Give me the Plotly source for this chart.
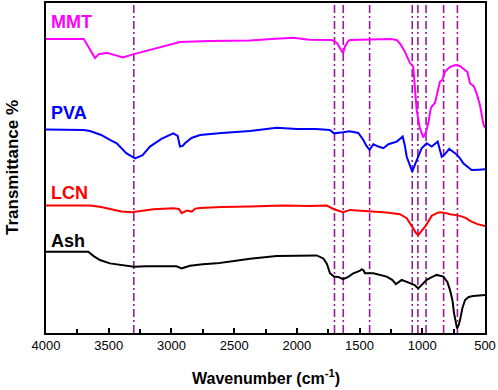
import plotly.graph_objects as go

# ---- data (wavenumber cm-1, offset transmittance in arbitrary units) ----
mmt_wn = [4000, 3700, 3689, 3650, 3609, 3580, 3514, 3450, 3386, 3300, 3150, 2932, 2700, 2509, 2374, 2200,
          2028, 1900, 1722, 1680, 1650, 1632, 1615, 1590, 1576, 1400, 1250, 1204, 1170, 1138, 1110, 1098,
          1072, 1060, 1045, 1020, 992, 970, 952, 935, 925, 899, 880, 859, 840, 819, 780, 739, 700, 673,
          640, 620, 590, 567, 540, 514, 500]
mmt_t = [89.1, 89.1, 88.5, 85.8, 83.3, 84.5, 84.9, 84.2, 83.5, 84.5, 86.1, 88.2, 88.5, 88.6, 88.6, 89.1,
         89.5, 88.9, 88.8, 87.9, 86.1, 84.8, 86.9, 88.5, 88.8, 88.9, 89.1, 88.8, 87.3, 85.2, 82.7, 81.8,
         80.7, 75.2, 67.6, 62.2, 59.3, 60.9, 63.6, 67.6, 68.6, 69.7, 73.0, 76.2, 76.7, 79.2, 80.6, 81.2, 80.9, 80.2,
         79.1, 75.7, 74.8, 72.6, 69.1, 63.5, 62.1]

pva_wn = [4000, 3700, 3649, 3560, 3490, 3436, 3360, 3290, 3230, 3171, 3080, 2985, 2950, 2932, 2910, 2892,
          2840, 2772, 2600, 2374, 2161, 2000, 1850, 1736, 1704, 1670, 1632, 1580, 1510, 1470, 1445, 1420,
          1390, 1350, 1310, 1270, 1204, 1156, 1140, 1124, 1100, 1080, 1060, 1045, 1005, 965, 925, 900,
          877, 860, 845, 819, 785, 739, 700, 673, 640, 607, 550, 500]
pva_t = [61.7, 61.5, 61.2, 60.0, 58.5, 57.5, 54.5, 52.9, 53.9, 56.5, 58.8, 60.5, 59.7, 56.5, 56.7, 57.5,
         59.1, 60.0, 60.6, 61.2, 62.2, 61.8, 61.8, 61.5, 60.5, 60.6, 60.8, 61.1, 60.6, 58.5, 56.7, 55.5,
         57.2, 56.5, 56.0, 57.2, 58.0, 59.5, 57.0, 53.4, 50.9, 48.9, 50.9, 52.4, 56.0, 57.5, 56.5, 57.3,
         58.0, 55.5, 53.4, 54.2, 55.8, 54.5, 53.0, 51.4, 50.3, 49.4, 49.5, 49.6]

lcn_wn = [4000, 3649, 3560, 3490, 3400, 3317, 3230, 3145, 2985, 2940, 2918, 2890, 2878, 2838, 2810, 2772,
          2600, 2374, 2108, 1900, 1762, 1704, 1660, 1632, 1576, 1500, 1420, 1350, 1284, 1178, 1124, 1072,
          1050, 1032, 1010, 978, 950, 925, 880, 859, 820, 779, 699, 650, 620, 560, 500]
lcn_t = [38.6, 38.6, 38.2, 37.5, 36.8, 36.6, 37.0, 37.5, 37.8, 37.6, 36.3, 37.0, 37.1, 36.8, 37.7, 37.9,
         38.2, 38.3, 38.6, 38.5, 38.6, 37.5, 37.0, 36.6, 37.3, 37.1, 36.8, 36.7, 36.5, 36.0, 34.8, 31.7,
         30.3, 29.7, 30.6, 32.2, 33.9, 35.5, 36.4, 36.6, 36.4, 36.0, 35.5, 34.8, 34.0, 33.0, 32.4]

ash_wn = [4000, 3663, 3620, 3570, 3490, 3357, 3300, 3200, 3038, 2960, 2918, 2852, 2750, 2639, 2500, 2374,
          2161, 2000, 1842, 1789, 1760, 1736, 1704, 1670, 1632, 1590, 1550, 1500, 1483, 1470, 1457, 1390,
          1284, 1240, 1210, 1164, 1098, 1060, 1032, 1000, 965, 920, 885, 832, 800, 779, 760, 747, 735,
          723, 710, 699, 680, 659, 630, 593, 500]
ash_t = [24.6, 24.6, 23.3, 22.1, 21.1, 20.5, 20.1, 20.2, 20.1, 20.2, 19.6, 20.4, 20.8, 21.1, 21.8, 22.5,
         23.3, 23.3, 23.5, 22.6, 20.9, 18.1, 17.1, 17.0, 16.3, 17.0, 18.1, 18.8, 19.3, 19.1, 18.1, 18.1,
         17.1, 16.1, 14.8, 16.1, 15.2, 14.5, 13.5, 14.8, 16.1, 17.0, 17.6, 17.1, 15.5, 13.0, 10.0, 6.0, 3.0,
         1.4, 2.4, 3.9, 7.6, 10.0, 10.9, 11.2, 11.5]

marker_wn = [3300, 1700, 1630, 1420, 1080, 1035, 970, 830, 720]

series_names = ["MMT", "PVA", "LCN", "Ash"]
series_colors = ["#FF00FF", "#0000FF", "#FF0000", "#000000"]
label_y = [94.2, 66.7, 42.4, 27.9]

tick_vals = [4000, 3500, 3000, 2500, 2000, 1500, 1000, 500]
tick_text = ["4000", "3500", "3000", "2500", "2000", "1500", "1000", "500"]

fig = go.Figure()

# vertical dash-dot reference lines
for w in marker_wn:
    fig.add_shape(type="line", xref="x", yref="paper", x0=w, x1=w, y0=0, y1=1,
                  line=dict(color="#9B1B96", width=1.6, dash="8px,3px,2px,3px"), layer="below")

for name, wn, t, c in zip(series_names, [mmt_wn, pva_wn, lcn_wn, ash_wn],
                          [mmt_t, pva_t, lcn_t, ash_t], series_colors):
    fig.add_trace(go.Scatter(x=wn, y=t, mode="lines", name=name,
                             line=dict(color=c, width=2), showlegend=False))

for name, c, ly in zip(series_names, series_colors, label_y):
    fig.add_annotation(x=3980, y=ly, xref="x", yref="y", text="<b>%s</b>" % name,
                       showarrow=False, xanchor="left", yanchor="middle",
                       font=dict(family="Arial, Liberation Sans", size=18, color=c))

# axis titles
fig.add_annotation(x=0.5, y=0, xref="paper", yref="paper", yshift=-44,
                   xanchor="center", yanchor="middle",
                   text="<b>Wavenumber (cm<sup>-1</sup>)</b>", showarrow=False,
                   font=dict(family="Arial, Liberation Sans", size=16, color="black"))
fig.add_annotation(x=0, y=0.5, xref="paper", yref="paper", xshift=-34,
                   text="<b>Transmittance %</b>", showarrow=False, textangle=-90,
                   xanchor="center", yanchor="middle",
                   font=dict(family="Arial, Liberation Sans", size=17, color="black"))

fig.update_layout(
    width=498, height=390,
    margin=dict(l=46, r=13, t=3, b=57, autoexpand=False),
    plot_bgcolor="white", paper_bgcolor="white",
    font=dict(family="Arial, Liberation Sans", color="black"),
    xaxis=dict(range=[4000, 500], showgrid=False, zeroline=False, automargin=False,
               showline=True, linecolor="black", linewidth=1.5, mirror=True,
               tickmode="array", tickvals=tick_vals, ticktext=tick_text,
               ticks="inside", ticklen=5, tickwidth=1.5, tickcolor="black",
               minor=dict(dtick=250, ticks="inside", ticklen=4, tickwidth=1.5, tickcolor="black"),
               tickfont=dict(size=13)),
    yaxis=dict(range=[0, 100], showgrid=False, zeroline=False, showticklabels=False,
               automargin=False,
               showline=True, linecolor="black", linewidth=1.5, mirror=True, ticks=""),
)

fig.write_html("out.html", config={"displayModeBar": False},
               post_script="document.body.style.margin='0px';")
